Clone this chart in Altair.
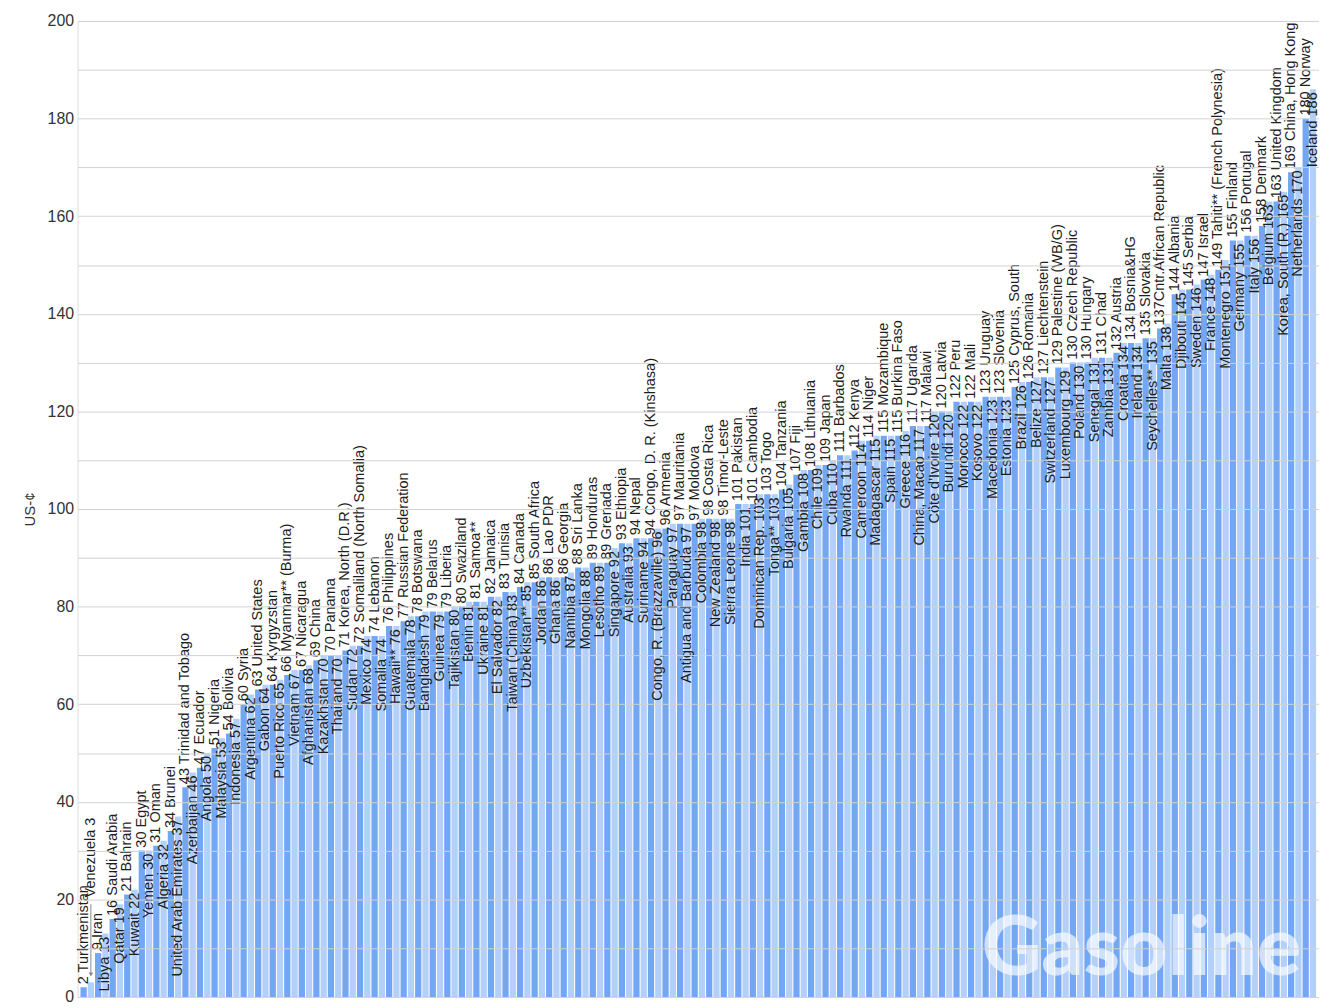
import altair as alt
import pandas as pd

countries = [
    "Turkmenistan", "Venezuela", "Iran", "Libya", "Saudi Arabia", "Qatar", "Bahrain", "Kuwait",
    "Egypt", "Yemen", "Oman", "Algeria", "Brunei", "United Arab Emirates", "Trinidad and Tobago",
    "Azerbaijan", "Ecuador", "Angola", "Nigeria", "Malaysia", "Bolivia", "Indonesia", "Syria",
    "Argentina", "United States", "Gabon", "Kyrgyzstan", "Puerto Rico", "Myanmar** (Burma)",
    "Vietnam", "Nicaragua", "Afghanistan", "China", "Kazakhstan", "Panama", "Thailand",
    "Korea, North (D.R.)", "Sudan", "Somaliland (North Somalia)", "Mexico", "Lebanon", "Somalia",
    "Philippines", "Hawaii**", "Russian Federation", "Guatemala", "Botswana", "Bangladesh",
    "Belarus", "Guinea", "Liberia", "Tajikistan", "Swaziland", "Benin", "Samoa**", "Ukraine",
    "Jamaica", "El Salvador", "Tunisia", "Taiwan (China)", "Canada", "Uzbekistan**",
    "South Africa", "Jordan", "Lao PDR", "Ghana", "Georgia", "Namibia", "Sri Lanka", "Mongolia",
    "Honduras", "Lesotho", "Grenada", "Singapore", "Ethiopia", "Australia", "Nepal", "Suriname",
    "Congo, D. R. (Kinshasa)", "Congo, R. (Brazzaville)", "Armenia", "Paraguay", "Mauritania",
    "Antigua and Barbuda", "Moldova", "Colombia", "Costa Rica", "New Zealand", "Timor-Leste",
    "Sierra Leone", "Pakistan", "India", "Cambodia", "Dominican Rep.", "Togo", "Tonga**",
    "Tanzania", "Bulgaria", "Fiji", "Gambia", "Lithuania", "Chile", "Japan", "Cuba", "Barbados",
    "Rwanda", "Kenya", "Cameroon", "Niger", "Madagascar", "Mozambique", "Spain", "Burkina Faso",
    "Greece", "Uganda", "China, Macao", "Malawi", "Côte d'Ivoire", "Latvia", "Burundi", "Peru",
    "Morocco", "Mali", "Kosovo", "Uruguay", "Macedonia", "Slovenia", "Estonia", "Cyprus, South",
    "Brazil", "Romania", "Belize", "Liechtenstein", "Switzerland", "Palestine (WB/G)",
    "Luxembourg", "Czech Republic", "Poland", "Hungary", "Senegal", "Chad", "Zambia", "Austria",
    "Croatia", "Bosnia&HG", "Ireland", "Slovakia", "Seychelles**", "Cntr.African Republic",
    "Malta", "Albania", "Djibouti", "Serbia", "Sweden", "Israel", "France",
    "Tahiti** (French Polynesia)", "Montenegro", "Finland", "Germany", "Portugal", "Italy",
    "Denmark", "Belgium", "United Kingdom", "Korea, South (R.)", "China, Hong Kong",
    "Netherlands", "Norway", "Iceland",
]

prices = [
    2, 3, 9, 13, 16, 19, 21, 22,
    30, 30, 31, 32, 34, 37, 43,
    46, 47, 50, 51, 53, 54, 57, 60,
    62, 63, 64, 64, 65, 66,
    67, 67, 68, 69, 70, 70, 70,
    71, 72, 72, 74, 74, 74,
    76, 76, 77, 78, 78, 79,
    79, 79, 79, 80, 80, 81, 81, 81,
    82, 82, 83, 83, 84, 85,
    85, 86, 86, 86, 86, 87, 88, 88,
    89, 89, 89, 92, 93, 93, 94, 94,
    94, 96, 96, 97, 97,
    97, 97, 98, 98, 98, 98,
    98, 101, 101, 101, 103, 103, 103,
    104, 105, 107, 108, 108, 109, 109, 110, 111,
    111, 112, 114, 114, 115, 115, 115, 115,
    116, 117, 117, 117, 120, 120, 120, 122,
    122, 122, 122, 123, 123, 123, 123, 125,
    126, 126, 127, 127, 127, 129,
    129, 130, 130, 130, 131, 131, 131, 132,
    134, 134, 134, 135, 135, 137,
    138, 144, 145, 145, 146, 147, 148,
    149, 151, 155, 155, 156, 156,
    158, 163, 163, 165, 169,
    170, 180, 186,
]

# label that does not fit inside its bar: drawn higher, with an arrow
special_country = "Venezuela"
special_label_at = 19.8
arrow_from, arrow_to = 19.0, 4.6

rows = []
for i, (c, p) in enumerate(zip(countries, prices)):
    if c == special_country:
        kind, label, anchor = "special", f"{c} {p}", special_label_at
    elif i % 2 == 0:
        sep = "" if c.startswith("Cntr.") else " "
        kind, label, anchor = "out", f"{p}{sep}{c}", p
    else:
        kind, label, anchor = "in", f"{c} {p}", p
    rows.append({"idx": i, "country": c, "price": p, "kind": kind, "label": label,
                 "anchor": anchor, "shade": "a" if i % 2 == 0 else "b",
                 "a1": arrow_from, "a2": arrow_to})
df = pd.DataFrame(rows)

FONT = "Liberation Sans, Arial, Helvetica, sans-serif"
TXT = "#1e1e1e"
LBL_SIZE = 14.6

base = alt.Chart(df)
xenc = alt.X("idx:O", scale=alt.Scale(paddingInner=0.14, paddingOuter=0.4),
             axis=alt.Axis(labels=False, ticks=False, title=None, domain=True,
                           domainColor="#b5b5b5", grid=False))

bars = base.mark_bar().encode(
    x=xenc,
    y=alt.Y("price:Q", scale=alt.Scale(domain=[0, 200], nice=False),
            axis=alt.Axis(values=list(range(0, 201, 10)),
                          labelExpr="datum.value % 20 == 0 ? datum.label : ''",
                          grid=True, gridColor="#d2d2d2", domain=False, ticks=False,
                          labelFontSize=16, labelFont=FONT, labelColor="#333333",
                          labelPadding=4, title="US-¢", titleFont=FONT,
                          titleFontSize=15, titleFontWeight="normal",
                          titleColor="#333333", titlePadding=10, zindex=1)),
    color=alt.Color("shade:N", scale=alt.Scale(domain=["a", "b"],
                                               range=["#74a7f3", "#b3d0fa"]),
                    legend=None),
)

out_lbl = base.transform_filter("datum.kind == 'out' || datum.kind == 'special'").mark_text(
    angle=270, align="left", baseline="middle", dx=3, fontSize=LBL_SIZE, font=FONT, color=TXT
).encode(x="idx:O", y="anchor:Q", text="label:N")

in_lbl = base.transform_filter("datum.kind == 'in'").mark_text(
    angle=270, align="right", baseline="middle", dx=-3, fontSize=LBL_SIZE, font=FONT, color=TXT
).encode(x="idx:O", y="anchor:Q", text="label:N")

arrow = base.transform_filter("datum.kind == 'special'").mark_rule(
    color="#8a8a8a", strokeWidth=1
).encode(x="idx:O", y="a1:Q", y2="a2:Q")

arrow_head = base.transform_filter("datum.kind == 'special'").mark_point(
    shape="triangle-down", filled=True, size=22, color="#8a8a8a", opacity=1
).encode(x="idx:O", y="a2:Q")

mark_df = pd.DataFrame({"t": ["Gasoline"]})
watermark = alt.Chart(mark_df).mark_text(
    align="right", baseline="alphabetic", font="Lato, Liberation Sans, Arial, sans-serif",
    fontWeight=900, fontSize=83, color="white", opacity=0.66
).encode(x=alt.value(1231), y=alt.value(960), text="t:N")

chart = alt.layer(bars, watermark, arrow, arrow_head, out_lbl, in_lbl).properties(
    width=1249, height=982,
    padding={"left": 70, "top": 10, "right": 0, "bottom": 8},
    autosize=alt.AutoSizeParams(type="none"),
).configure_view(stroke=None).configure(background="white")

chart.save("out.html", embed_options={"renderer": "svg", "actions": False})
